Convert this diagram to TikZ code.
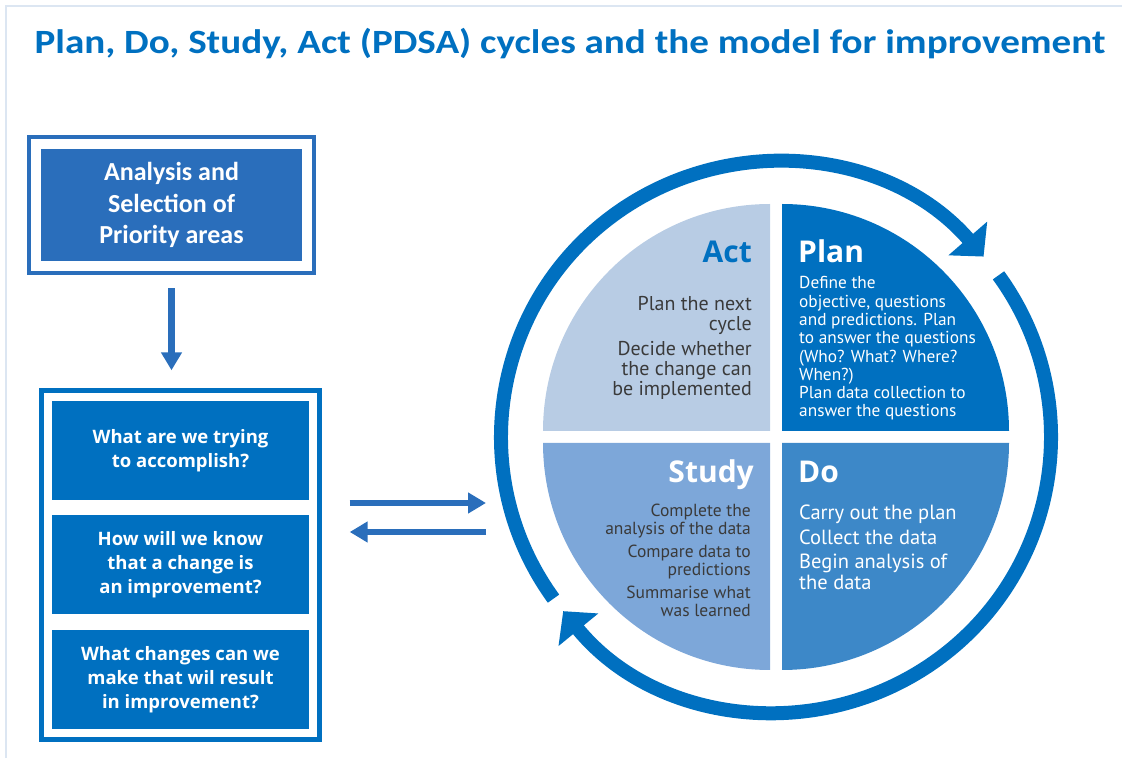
\documentclass[tikz,border=0pt]{standalone}
\usepackage{fontspec}
\setmainfont{Carlito}
\newfontfamily\titlefont[FakeStretch=1.15]{Carlito}
\newfontfamily\frutfont{PT Sans}
\newfontfamily\headfont{Open Sans}
\usetikzlibrary{arrows.meta,fit,positioning}

\definecolor{nhsblue}{HTML}{0070C0}
\definecolor{boxblue}{HTML}{2A6EBB}
\definecolor{actfill}{HTML}{B8CCE4}
\definecolor{studyfill}{HTML}{7DA7D9}
\definecolor{dofill}{HTML}{3D88C8}
\definecolor{framegray}{HTML}{DCE6F2}
\definecolor{bodygray}{HTML}{3A3A3A}

\tikzset{
  topbox/.style={fill=boxblue, minimum width=261pt, minimum height=112pt, inner sep=0pt,
    text=white, align=center, font=\bfseries\fontsize{26}{31.7}\selectfont},
  qbox/.style={fill=nhsblue, minimum width=257pt, minimum height=99pt, inner sep=0pt,
    text=white, align=center, font=\headfont\bfseries\fontsize{18.5}{24}\selectfont},
  flowarrow/.style={draw=boxblue, line width=7pt, -{Triangle[length=18pt,width=20pt]}},
  ring/.style={draw=nhsblue, line width=14pt, -{Triangle[length=24pt,width=50pt]}},
  qtitle/.style={font=\headfont\bfseries\fontsize{30}{30}\selectfont, inner sep=0pt},
  qbody/.style={inner sep=0pt},
}

\begin{document}
\begin{tikzpicture}[x=1pt, y=1pt]
  \useasboundingbox (0,0) rectangle (1122,758);
  % page frame
  \draw[framegray, line width=2pt] (6,0) |- (1122,752);
  \node[anchor=base, text=nhsblue, font=\titlefont\bfseries\fontsize{34}{34}\selectfont] (title) at (570,704)
    {Plan, Do, Study, Act (PDSA) cycles and the model for improvement};

  % left column
  \node[topbox] (analysis) at (171.5,553) {Analysis and\\Selection of\\Priority areas};
  \node[fit=(analysis), draw=boxblue, line width=4pt, inner sep=12pt] (analysisframe) {};

  \node[qbox] (aim) at (180.5,307.5) {What are we trying\\to accomplish?};
  \node[qbox, below=15pt of aim] (measure) {How will we know\\that a change is\\an improvement?};
  \node[qbox, below=15pt of measure] (change) {What changes can we\\make that wil result\\in improvement?};
  \node[fit=(aim)(change), draw=nhsblue, line width=5pt, inner sep=10pt] (questionsframe) {};

  \draw[flowarrow, shorten <=13pt, shorten >=18pt] (analysisframe.south) -- (analysisframe.south |- questionsframe.north);

  \coordinate (ringin) at (486,255);
  \coordinate (ringout) at (486,226);
  \draw[flowarrow, line width=6pt, shorten <=28pt] (questionsframe.east |- ringin) -- (ringin);
  \draw[flowarrow, line width=6pt, shorten >=28pt] (ringout) -- (questionsframe.east |- ringout);

  % PDSA wheel
  \coordinate (cyc) at (776,321);
  \fill[actfill] ([shift={(-6,6)}]cyc) -- ++(180:227) arc (180:90:227) -- cycle;
  \fill[nhsblue] ([shift={(6,6)}]cyc) -- ++(90:227) arc (90:0:227) -- cycle;
  \fill[studyfill] ([shift={(-6,-6)}]cyc) -- ++(270:227) arc (270:180:227) -- cycle;
  \fill[dofill] ([shift={(6,-6)}]cyc) -- ++(0:227) arc (0:-90:227) -- cycle;
  \draw[ring] (cyc) ++(216:275) arc (216:41:275);
  \draw[ring] (cyc) ++(36:275) arc (36:-140.7:275);

  \node[qtitle, text=nhsblue, anchor=base east] (acttitle) at (752,495) {Act};
  \node[qbody, text=bodygray, align=right, anchor=base east,
    font=\frutfont\fontsize{20}{20}\selectfont] (actbody) at (752,362)
    {Plan the next\\cycle\\[5pt]Decide whether\\the change can\\be implemented};

  \node[qtitle, text=white, anchor=base west] (plantitle) at (798,495) {Plan};
  \node[qbody, text=white, align=left, anchor=base west,
    font=\frutfont\fontsize{17.3}{18.3}\selectfont] (planbody) at (799,341)
    {Define the\\objective, questions\\and predictions. Plan\\to answer the questions\\(Who? What? Where?\\When?)\\Plan data collection to\\answer the questions};

  \node[qtitle, text=white, anchor=base east] (studytitle) at (754,275) {Study};
  \node[qbody, text=bodygray, align=right, anchor=base east,
    font=\frutfont\fontsize{17.5}{18}\selectfont] (studybody) at (751,141)
    {Complete the\\analysis of the data\\[5pt]Compare data to\\predictions\\[5pt]Summarise what\\was learned};

  \node[qtitle, text=white, anchor=base west] (dotitle) at (798,275) {Do};
  \node[qbody, text=white, align=left, anchor=base west,
    font=\frutfont\fontsize{20.5}{21}\selectfont] (dobody) at (799,168)
    {Carry out the plan\\[3.5pt]Collect the data\\[3.5pt]Begin analysis of\\the data};
\end{tikzpicture}
\end{document}
